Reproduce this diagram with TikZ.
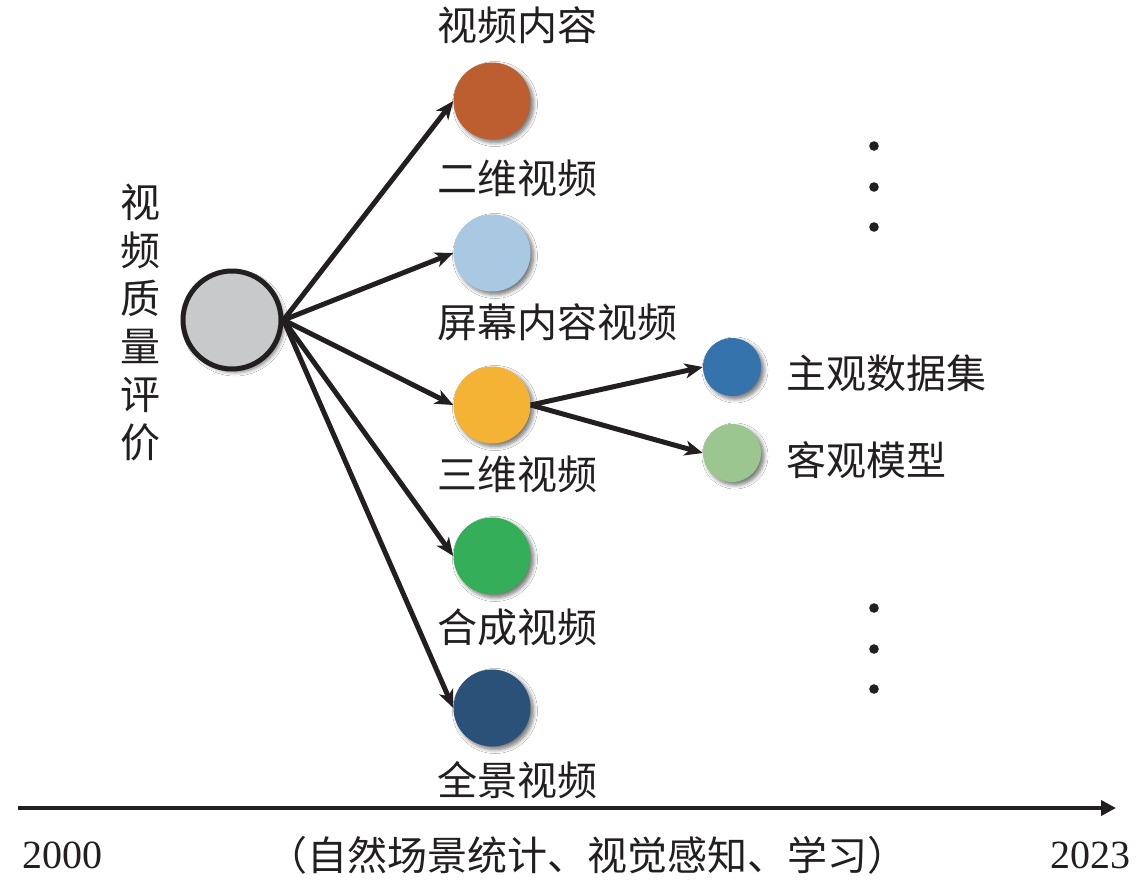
\documentclass[tikz,border=0pt]{standalone}
\usepackage{fontspec}
\newfontfamily\cjk{Noto Sans CJK SC}
\newfontfamily\latinserif{Liberation Serif}
\usetikzlibrary{arrows.meta,shadows.blur}
\definecolor{cOrange}{HTML}{BC5E30}
\definecolor{cLightBlue}{HTML}{A9C9E3}
\definecolor{cYellow}{HTML}{F5B335}
\definecolor{cGreen}{HTML}{34AE58}
\definecolor{cDarkBlue}{HTML}{2A5279}
\definecolor{cBlue}{HTML}{3573AD}
\definecolor{cLightGreen}{HTML}{9CC68F}
\definecolor{cGray}{HTML}{C8C9CB}
\definecolor{cInk}{HTML}{231F20}
\begin{document}
\begin{tikzpicture}[x=1pt,y=-1pt,
  shad/.style={blur shadow={shadow xshift=3pt,shadow yshift=-3pt,shadow blur radius=4pt,shadow blur steps=6,shadow opacity=55}},
  bub/.style={circle,inner sep=0pt,minimum size=77pt,shad},
  sbub/.style={bub,minimum size=58pt},
  lab/.style={anchor=west,inner sep=0pt,text=cInk,font=\cjk\fontsize{40}{48}\selectfont},
  conn/.style={line width=5pt,draw=cInk,-{Stealth[length=18pt,width=15pt,inset=5pt]}},
  axisline/.style={line width=4.8pt,draw=cInk,-{Triangle[length=15pt,width=15pt]}},
  dotmark/.style={fill=cInk},
  year/.style={inner sep=0pt,text=cInk,font=\latinserif\fontsize{40}{48}\selectfont}
]
\fill[white] (0,0) rectangle (1140,879);
\useasboundingbox (0,0) rectangle (1140,879);

% main node
\node[circle,inner sep=0pt,minimum size=98pt,line width=5pt,draw=cInk,fill=cGray,shad] (main) at (232,320) {};
\node[inner sep=0pt,align=center,text=cInk,font=\cjk\fontsize{40}{48}\selectfont] (vlab) at (140,322) {视\\频\\质\\量\\评\\价};

% column circles
\node[bub,fill=cOrange] (c1) at (492,101) {};
\node[bub,fill=cLightBlue] (c2) at (492,253) {};
\node[bub,fill=cYellow] (c3) at (492,405) {};
\node[bub,fill=cGreen] (c4) at (492,556) {};
\node[bub,fill=cDarkBlue] (c5) at (492,708) {};

% labels
\node[lab] (l1) at (437,25) {视频内容};
\node[lab] (l2) at (437,178) {二维视频};
\node[lab] (l3) at (437,322) {屏幕内容视频};
\node[lab] (l4) at (437,474) {三维视频};
\node[lab] (l5) at (437,627) {合成视频};
\node[lab] (l6) at (437,780) {全景视频};

% right circles
\node[sbub,fill=cBlue] (r1) at (732,367) {};
\node[sbub,fill=cLightGreen] (r2) at (732,453) {};
\node[lab] (rl1) at (786,373) {主观数据集};
\node[lab] (rl2) at (786,460) {客观模型};

% connectors
\foreach \t in {c1,c2,c3,c4,c5}
  \draw[conn] (main.east) -- (\t.west);
\draw[conn] (c3.east) -- (r1.west);
\draw[conn] (c3.east) -- (r2.west);

% dots
\foreach \yy in {146,187,227,608,649,689}
  \fill[dotmark] (874,\yy) circle[radius=4.8pt];

% axis
\coordinate (ax0) at (18,808);
\coordinate (ax1) at (1116,808);
\draw[axisline] (ax0) -- (ax1);
\node[year] (y0) at (62,855) {2000};
\node[year] (y1) at (1090,855) {2023};
\node[inner sep=0pt,text=cInk,font=\cjk\fontsize{40}{48}\selectfont] (btm) at (587,855) {（自然场景统计、视觉感知、学习）};
\end{tikzpicture}
\end{document}
